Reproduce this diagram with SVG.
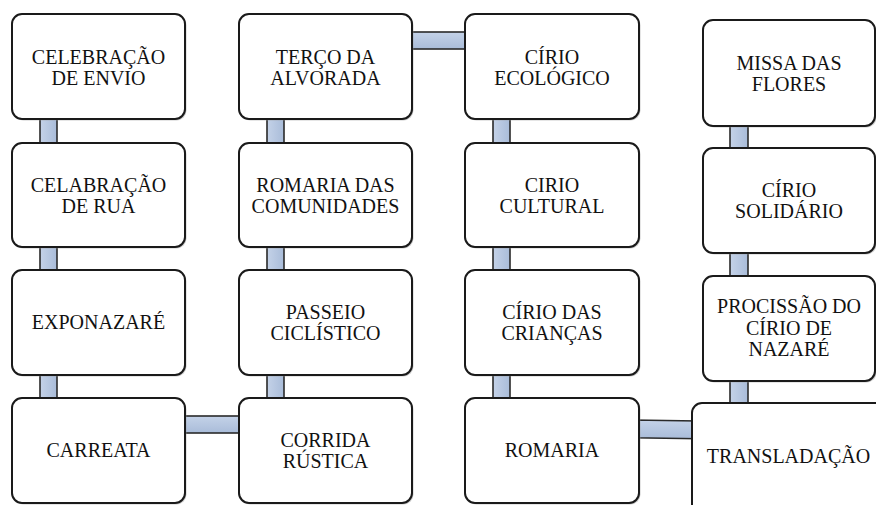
<svg xmlns="http://www.w3.org/2000/svg" width="876" height="505" viewBox="0 0 876 505">
<defs>
<linearGradient id="gh" x1="0" y1="0" x2="0" y2="1">
<stop offset="0" stop-color="#c4d2e8"/>
<stop offset="1" stop-color="#a9bcd9"/>
</linearGradient>
<linearGradient id="gv" x1="0" y1="0" x2="1" y2="0">
<stop offset="0" stop-color="#c4d2e8"/>
<stop offset="1" stop-color="#a9bcd9"/>
</linearGradient>
</defs>
<style>
.box{fill:#ffffff;stroke:#1a1a1a;stroke-width:2}
.sh{fill:#9a9a9a;opacity:0.5}
.cv{fill:url(#gv);stroke:#2a2a2a;stroke-width:1.6}
.ch{fill:url(#gh);stroke:#2a2a2a;stroke-width:1.6}
</style>
<rect width="876" height="505" fill="#ffffff"/>
<g id="connectors">
<rect class="cv" x="40" y="112" width="17" height="38"/>
<rect class="cv" x="40" y="240" width="17" height="37"/>
<rect class="cv" x="40" y="368" width="17" height="37"/>
<rect class="cv" x="267" y="112" width="17" height="38"/>
<rect class="cv" x="267" y="240" width="17" height="37"/>
<rect class="cv" x="267" y="368" width="17" height="37"/>
<rect class="cv" x="493" y="112" width="17" height="38"/>
<rect class="cv" x="493" y="240" width="17" height="37"/>
<rect class="cv" x="493" y="368" width="17" height="37"/>
<rect class="cv" x="730" y="119" width="18" height="36"/>
<rect class="cv" x="730" y="246" width="18" height="37"/>
<rect class="cv" x="730" y="374" width="18" height="36"/>
<rect class="ch" x="405" y="32" width="67" height="17"/>
<rect class="ch" x="178" y="416" width="68" height="17"/>
<polygon class="ch" points="632,420 698,421 698,438.7 632,437.7"/>
</g>
<g font-family="Liberation Serif" font-size="20" fill="#111" text-anchor="middle">
<g id="n1"><rect class="sh" x="13.5" y="15.5" width="173" height="105" rx="10"/><rect class="box" x="12" y="14" width="173" height="105" rx="10"/><text x="98.5" y="64">CELEBRAÇÃO</text><text x="98.5" y="84.5">DE ENVIO</text></g>
<g id="n2"><rect class="sh" x="13.5" y="144.5" width="173" height="104" rx="10"/><rect class="box" x="12" y="143" width="173" height="104" rx="10"/><text x="98.5" y="192">CELABRAÇÃO</text><text x="98.5" y="212.5">DE RUA</text></g>
<g id="n3"><rect class="sh" x="13.5" y="271.5" width="173" height="105" rx="10"/><rect class="box" x="12" y="270" width="173" height="105" rx="10"/><text x="98.5" y="329">EXPONAZARÉ</text></g>
<g id="n4"><rect class="sh" x="13.5" y="399.5" width="173" height="105" rx="10"/><rect class="box" x="12" y="398" width="173" height="105" rx="10"/><text x="98.5" y="456.5">CARREATA</text></g>
<g id="n5"><rect class="sh" x="240.5" y="15.5" width="173" height="105" rx="10"/><rect class="box" x="239" y="14" width="173" height="105" rx="10"/><text x="325.5" y="64">TERÇO DA</text><text x="325.5" y="84.5">ALVORADA</text></g>
<g id="n6"><rect class="sh" x="240.5" y="144.5" width="173" height="104" rx="10"/><rect class="box" x="239" y="143" width="173" height="104" rx="10"/><text x="325.5" y="192">ROMARIA DAS</text><text x="325.5" y="212.5">COMUNIDADES</text></g>
<g id="n7"><rect class="sh" x="240.5" y="271.5" width="173" height="105" rx="10"/><rect class="box" x="239" y="270" width="173" height="105" rx="10"/><text x="325.5" y="318.5">PASSEIO</text><text x="325.5" y="339.5">CICLÍSTICO</text></g>
<g id="n8"><rect class="sh" x="240.5" y="399.5" width="173" height="105" rx="10"/><rect class="box" x="239" y="398" width="173" height="105" rx="10"/><text x="325.5" y="447">CORRIDA</text><text x="325.5" y="468">RÚSTICA</text></g>
<g id="n9"><rect class="sh" x="466.5" y="15.5" width="174" height="105" rx="10"/><rect class="box" x="465" y="14" width="174" height="105" rx="10"/><text x="552" y="63.5">CÍRIO</text><text x="552" y="84.5">ECOLÓGICO</text></g>
<g id="n10"><rect class="sh" x="466.5" y="144.5" width="174" height="104" rx="10"/><rect class="box" x="465" y="143" width="174" height="104" rx="10"/><text x="552" y="192">CIRIO</text><text x="552" y="212.5">CULTURAL</text></g>
<g id="n11"><rect class="sh" x="466.5" y="271.5" width="174" height="105" rx="10"/><rect class="box" x="465" y="270" width="174" height="105" rx="10"/><text x="552" y="318.5">CÍRIO DAS</text><text x="552" y="339.5">CRIANÇAS</text></g>
<g id="n12"><rect class="sh" x="466.5" y="399.5" width="174" height="105" rx="10"/><rect class="box" x="465" y="398" width="174" height="105" rx="10"/><text x="552" y="456.5">ROMARIA</text></g>
<g id="n13"><rect class="sh" x="704.5" y="21.5" width="172" height="106" rx="10"/><rect class="box" x="703" y="20" width="172" height="106" rx="10"/><text x="789" y="70">MISSA DAS</text><text x="789" y="90.5">FLORES</text></g>
<g id="n14"><rect class="sh" x="704.5" y="149.5" width="172" height="105" rx="10"/><rect class="box" x="703" y="148" width="172" height="105" rx="10"/><text x="789" y="197">CÍRIO</text><text x="789" y="217.5">SOLIDÁRIO</text></g>
<g id="n15"><rect class="sh" x="704.5" y="277.5" width="172" height="105" rx="10"/><rect class="box" x="703" y="276" width="172" height="105" rx="10"/><text x="789" y="313">PROCISSÃO DO</text><text x="789" y="334.5">CÍRIO DE</text><text x="789" y="356">NAZARÉ</text></g>
<g id="n16"><rect class="sh" x="693.5" y="404.5" width="200" height="120" rx="10"/><rect class="box" x="692" y="403" width="200" height="120" rx="10"/><text x="788.5" y="463">TRANSLADAÇÃO</text></g>
</g>
</svg>
